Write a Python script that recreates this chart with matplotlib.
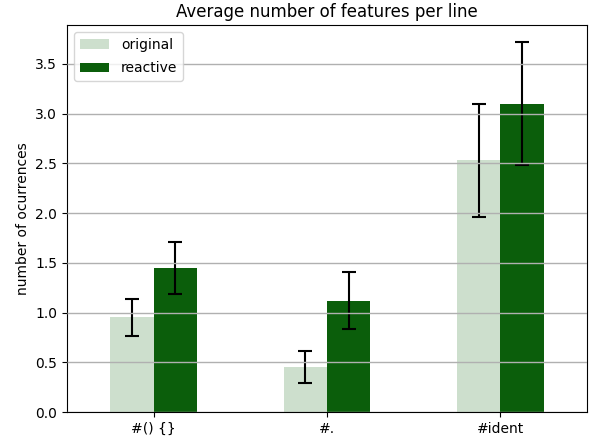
import matplotlib
matplotlib.use("Agg")
import matplotlib.pyplot as plt
import numpy as np

categories = ["#() {}", "#.", "#ident"]
original = [0.95, 0.45, 2.53]
original_err = [0.19, 0.16, 0.565]
reactive = [1.45, 1.12, 3.10]
reactive_err = [0.26, 0.29, 0.615]

fig = plt.figure(figsize=(5.9, 4.43), dpi=100)
ax = fig.add_axes([67/590, 1-412/443, (587-67)/590, (412-25)/443])
x = np.arange(len(categories))
w = 0.25
ax.bar(x - w/2, original, w, yerr=original_err, capsize=5, color="#cddfcd",
       label="original", error_kw=dict(elinewidth=1.5, capthick=1.5))
ax.bar(x + w/2, reactive, w, yerr=reactive_err, capsize=5, color="#0b5e0b",
       label="reactive", error_kw=dict(elinewidth=1.5, capthick=1.5))
ax.set_axisbelow(False)
ax.yaxis.grid(True, color="#b0b0b0", linewidth=1)
ax.set_xticks(x)
ax.set_xticklabels(categories)
ax.set_xlim(-0.5, 2.5)
ax.set_ylim(0, 3.89)
ax.set_ylabel("number of ocurrences")
ax.set_title("Average number of features per line")
ax.legend(loc="upper left", labelspacing=0.7, handlelength=2.1, handletextpad=0.9)
fig.savefig("out.png", dpi=100)
